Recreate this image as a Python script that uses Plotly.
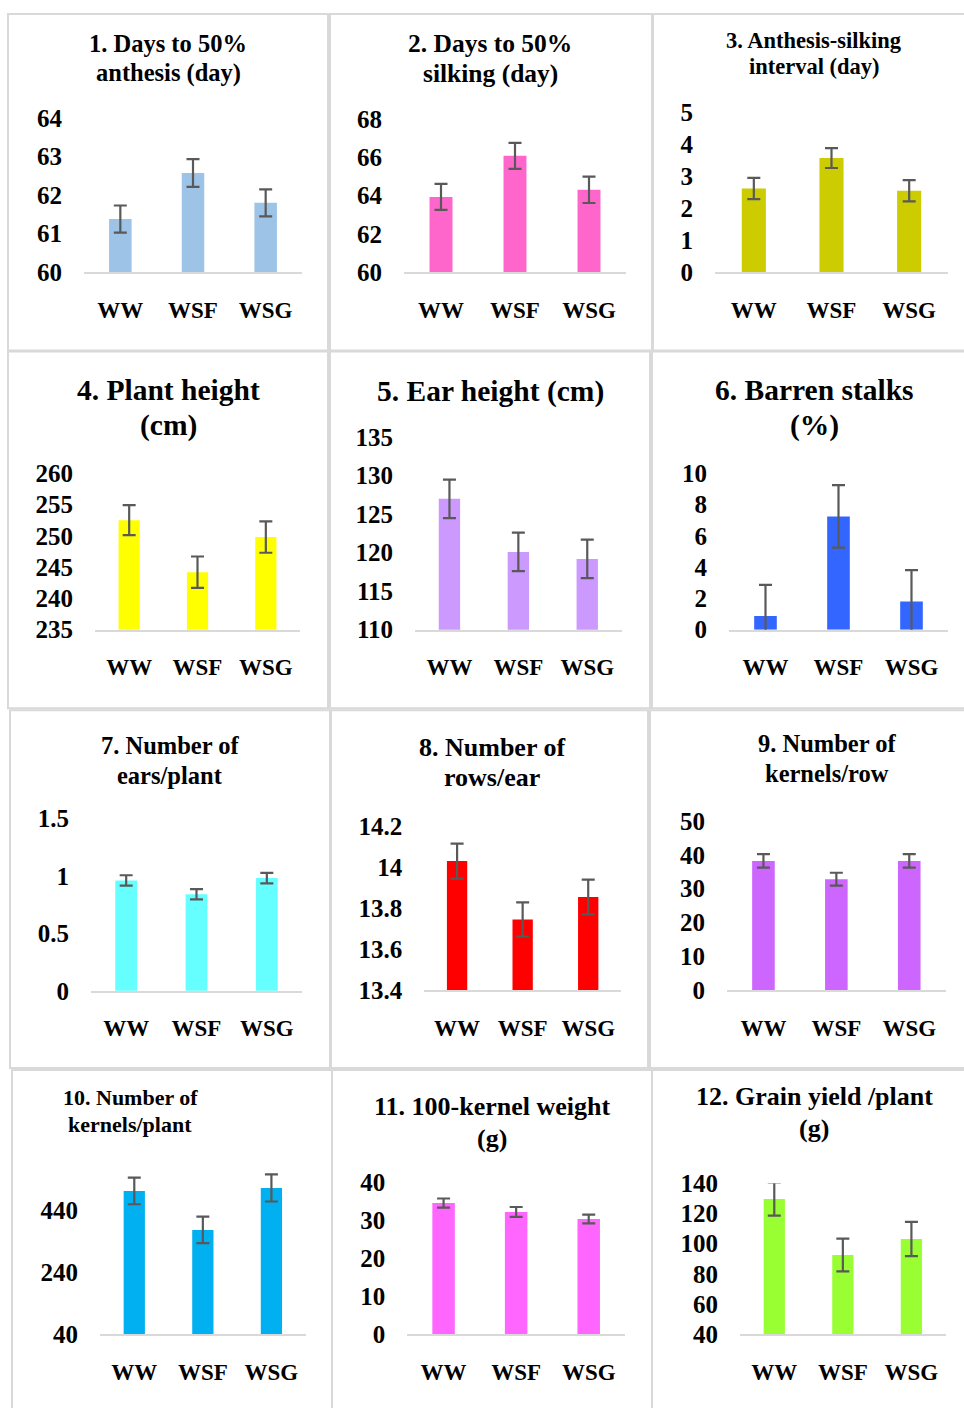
import plotly.graph_objects as go

# ---------------- data ----------------
categories = ["WW", "WSF", "WSG"]

anthesis_days = [61.38, 62.57, 61.80]
anthesis_err = [0.35, 0.36, 0.35]

silking_days = [63.94, 66.08, 64.31]
silking_err = [0.68, 0.68, 0.69]

asi_days = [2.61, 3.56, 2.54]
asi_err = [0.33, 0.31, 0.33]

plant_height = [252.5, 244.2, 249.8]
plant_height_err = [2.4, 2.5, 2.5]

ear_height = [127.0, 120.1, 119.2]
ear_height_err = [2.5, 2.5, 2.5]

barren_stalks = [0.87, 7.24, 1.81]
barren_stalks_err = [2.0, 2.0, 2.0]

ears_per_plant = [0.96, 0.84, 0.98]
ears_per_plant_err = [0.045, 0.045, 0.045]

rows_per_ear = [14.03, 13.745, 13.855]
rows_per_ear_err = [0.085, 0.084, 0.085]

kernels_per_row = [38.2, 32.8, 38.2]
kernels_per_row_err = [2.0, 1.9, 2.0]

kernels_per_plant = [504, 378, 514]
kernels_per_plant_err = [43, 43, 44]

kernel_weight_100 = [34.55, 32.2, 30.35]
kernel_weight_100_err = [1.2, 1.3, 1.15]

grain_yield = [129.6, 92.5, 103.1]
grain_yield_err = [11, 10.8, 11.3]

titles = [
    ["1. Days to 50%", "anthesis (day)"],
    ["2. Days to 50%", "silking (day)"],
    ["3. Anthesis-silking", "interval (day)"],
    ["4. Plant height", "(cm)"],
    ["5. Ear height (cm)"],
    ["6. Barren stalks", "(%)"],
    ["7. Number of", "ears/plant"],
    ["8. Number of", "rows/ear"],
    ["9. Number of", "kernels/row"],
    ["10. Number of", "kernels/plant"],
    ["11. 100-kernel weight", "(g)"],
    ["12. Grain yield /plant", "(g)"],
]

y_ranges = [[60, 64], [60, 68], [0, 5], [235, 260], [110, 135], [0, 10],
            [0, 1.5], [13.4, 14.2], [0, 50], [40, 600], [0, 40], [40, 140]]
y_ticks = [[60, 61, 62, 63, 64], [60, 62, 64, 66, 68], [0, 1, 2, 3, 4, 5],
           [235, 240, 245, 250, 255, 260], [110, 115, 120, 125, 130, 135],
           [0, 2, 4, 6, 8, 10], [0, 0.5, 1, 1.5], [13.4, 13.6, 13.8, 14, 14.2],
           [0, 10, 20, 30, 40, 50], [40, 240, 440], [0, 10, 20, 30, 40],
           [40, 60, 80, 100, 120, 140]]

series = [
    (anthesis_days, anthesis_err), (silking_days, silking_err), (asi_days, asi_err),
    (plant_height, plant_height_err), (ear_height, ear_height_err),
    (barren_stalks, barren_stalks_err), (ears_per_plant, ears_per_plant_err),
    (rows_per_ear, rows_per_ear_err), (kernels_per_row, kernels_per_row_err),
    (kernels_per_plant, kernels_per_plant_err), (kernel_weight_100, kernel_weight_100_err),
    (grain_yield, grain_yield_err),
]

# ---------------- styles / layout ----------------
W, H = 964, 1408
colors = ["#9DC3E6", "#FF66CC", "#CCCC00", "#FFFF00", "#CC99FF", "#3366FF",
          "#66FFFF", "#FF0000", "#CC66FF", "#00B0F0", "#FF66FF", "#99FF33"]

# vertical compensation for the photographed page (observed: shown = 12.15 + 0.9815*y)
def fy(y):
    return (y - 12.15) / 0.9815

# plot rectangles in target pixels: left, right, top, bottom
rects = [
    (84, 302, 117, 271.7), (404, 626, 118.3, 271.7), (715, 948, 111, 271.7),
    (95, 300, 472.7, 629.3), (415, 621.7, 436.7, 629.3), (729, 948, 472.7, 629.3),
    (91, 302, 818, 990.7), (424.3, 621, 826, 990), (727, 945.7, 820.7, 990),
    (100, 305.7, 1161.3, 1334.3), (407.3, 625, 1182.3, 1334.3), (740, 945.7, 1183.3, 1334.3),
]

# panel boxes: left, right, top, bottom
boxes = [
    (8, 328, 8, 350), (330, 652, 8, 350), (653, 966, 8, 350),
    (8, 328, 351, 708), (330, 650, 351, 708), (652, 966, 351, 708),
    (10, 330, 710, 1068), (331, 648, 710, 1068), (650, 966, 710, 1068),
    (12, 332, 1070, 1412), (332, 652, 1070, 1412), (652, 966, 1070, 1412),
]

# title line centers (x, [y of each line]) and font size
title_pos = [
    (168, [43, 72], 24.5), (490, [43, 73], 25.5), (814, [40, 66], 22.5),
    (168, [389, 425], 29.5), (490, [391], 29.5), (814, [389, 425], 29.5),
    (170, [745, 775], 24.5), (492, [747, 777], 26), (827, [743, 773], 24.5),
    (130, [1097, 1124], 22), (492, [1106, 1138], 26), (814, [1096, 1128], 26),
]

FONT = "Liberation Serif"

fig = go.Figure()
layout = dict(
    width=W, height=H, margin=dict(l=0, r=0, t=0, b=0),
    paper_bgcolor="white", plot_bgcolor="white", showlegend=False,
    bargap=0.69, shapes=[], annotations=[],
)

for i in range(12):
    n = i + 1
    xs = "x" if n == 1 else f"x{n}"
    ys = "y" if n == 1 else f"y{n}"
    xk = "xaxis" if n == 1 else f"xaxis{n}"
    yk = "yaxis" if n == 1 else f"yaxis{n}"
    vals, errs = series[i]
    fig.add_trace(go.Bar(
        x=categories, y=vals, xaxis=xs, yaxis=ys,
        marker=dict(color=colors[i], line=dict(width=0)),
        error_y=dict(type="data", array=errs, visible=True,
                     color="#595959", thickness=2.2, width=6.5),
    ))
    l, r, t, b = rects[i]
    layout[xk] = dict(
        domain=[l / W, r / W], anchor=ys, showgrid=False, zeroline=False,
        showline=True, linecolor="#D9D9D9", linewidth=2, ticks="",
        tickfont=dict(family=FONT, size=23, color="black", weight="bold"),
        ticklabelstandoff=16, fixedrange=True,
    )
    layout[yk] = dict(
        domain=[1 - fy(b) / H, 1 - fy(t) / H], anchor=xs, range=y_ranges[i],
        tickvals=y_ticks[i], showgrid=False, zeroline=False, showline=False,
        ticks="", tickfont=dict(family=FONT, size=25, color="black", weight="bold"),
        ticklabelstandoff=21, fixedrange=True,
    )
    bl, br, bt, bb = boxes[i]
    top_px = max(fy(bt), 1.0)
    layout["shapes"].append(dict(
        type="rect", xref="paper", yref="paper",
        x0=bl / W, x1=br / W, y0=1 - fy(bb) / H, y1=1 - top_px / H,
        line=dict(color="#D9D9D9", width=2), fillcolor="rgba(0,0,0,0)", layer="below",
    ))
    cx, ylines, fs = title_pos[i]
    for line_text, cy in zip(titles[i], ylines):
        layout["annotations"].append(dict(
            text=line_text, xref="paper", yref="paper", x=cx / W, y=1 - fy(cy) / H,
            xanchor="center", yanchor="middle", showarrow=False,
            font=dict(family=FONT, size=fs, color="black", weight="bold"),
        ))

fig.update_layout(**layout)
fig.write_html(
    "out.html",
    config={"displayModeBar": False},
    post_script=(
        "document.body.style.margin='0';"
        "document.body.style.overflow='hidden';"
    ),
)
